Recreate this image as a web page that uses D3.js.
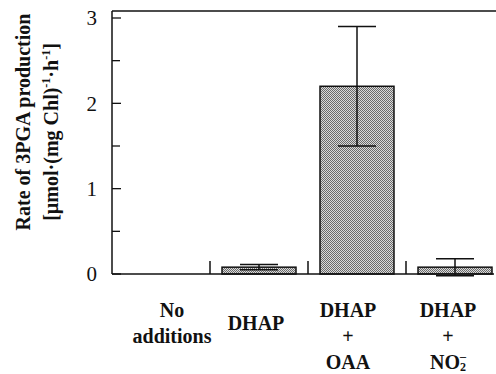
<!DOCTYPE html>
<html>
<head>
<meta charset="utf-8">
<script src="https://cdn.jsdelivr.net/npm/d3@7"></script>
<style>
  body { margin: 0; background: #fff; }
  text { font-family: "Liberation Serif", "Times New Roman", serif; }
</style>
</head>
<body>
<div id="chart"></div>
<script>
const categories = ["none", "dhap", "oaa", "no2"];
const values = [0, 0.08, 2.2, 0.08];
const errors = [0, 0.03, 0.7, 0.1];
const yTicks = [0, 1, 2, 3];
const yMinorTicks = [0.5, 1.5, 2.5];
// label lines for each category (null = empty line)
const labelLines = [
  ["No", "additions"],
  [null, "DHAP"],
  ["DHAP", "+", "OAA"],
  ["DHAP", "+", "NO2-"]
];

const width = 496, height = 374;
const svg = d3.select("#chart").append("svg")
  .attr("width", width).attr("height", height);

const defs = svg.append("defs");
const pat = defs.append("pattern")
  .attr("id", "stipple").attr("patternUnits", "userSpaceOnUse")
  .attr("width", 2).attr("height", 2);
pat.append("rect").attr("width", 2).attr("height", 2).attr("fill", "#dadada");
pat.append("rect").attr("width", 1).attr("height", 1).attr("fill", "#6a6a6a");
pat.append("rect").attr("x", 1).attr("y", 1).attr("width", 1).attr("height", 1).attr("fill", "#6a6a6a");

const x = d3.scaleBand().domain(categories).range([112, 504]).paddingInner(0.245).paddingOuter(0.1225);
const y = d3.scaleLinear().domain([0, 3]).range([274, 18]);

const plotLeft = 112, plotRight = 496, plotTop = 11;

// frame lines
svg.append("line").attr("x1", plotLeft).attr("x2", plotLeft).attr("y1", plotTop).attr("y2", y(0))
  .attr("stroke", "#111").attr("stroke-width", 1.5);
svg.append("line").attr("x1", plotLeft).attr("x2", plotRight).attr("y1", plotTop).attr("y2", plotTop)
  .attr("stroke", "#111").attr("stroke-width", 1.5);

// y axis ticks (inward)
svg.append("g").selectAll("line").data(yTicks).join("line")
  .attr("x1", plotLeft).attr("x2", plotLeft + 9)
  .attr("y1", d => y(d)).attr("y2", d => y(d))
  .attr("stroke", "#111").attr("stroke-width", 1.3);
svg.append("g").selectAll("line").data(yMinorTicks).join("line")
  .attr("x1", plotLeft).attr("x2", plotLeft + 8)
  .attr("y1", d => y(d)).attr("y2", d => y(d))
  .attr("stroke", "#111").attr("stroke-width", 1.3);
svg.append("g").selectAll("text").data(yTicks).join("text")
  .attr("x", plotLeft - 15).attr("y", d => y(d))
  .attr("dy", "0.35em").attr("text-anchor", "end")
  .attr("font-size", 21).attr("fill", "#111")
  .text(d => d);

// bars
svg.append("g").selectAll("rect").data(categories.filter((c, i) => values[i] > 0)).join("rect")
  .attr("x", d => x(d)).attr("width", x.bandwidth())
  .attr("y", d => y(values[categories.indexOf(d)]))
  .attr("height", d => y(0) - y(values[categories.indexOf(d)]))
  .attr("fill", "url(#stipple)").attr("stroke", "#111").attr("stroke-width", 1.5);

// baseline
svg.append("line").attr("x1", plotLeft).attr("x2", 494).attr("y1", y(0)).attr("y2", y(0))
  .attr("stroke", "#111").attr("stroke-width", 1.5);

// category separators
svg.append("g").selectAll("line").data(categories.slice(1)).join("line")
  .attr("x1", d => x(d) - x.step() * x.paddingInner() / 2)
  .attr("x2", d => x(d) - x.step() * x.paddingInner() / 2)
  .attr("y1", y(0)).attr("y2", y(0) - 13)
  .attr("stroke", "#111").attr("stroke-width", 1.5);

// error bars
const cap = 19;
const eb = svg.append("g").attr("stroke", "#111").attr("stroke-width", 1.5);
categories.forEach((c, i) => {
  if (errors[i] <= 0) return;
  const cx = x(c) + x.bandwidth() / 2;
  const hi = y(values[i] + errors[i]), lo = y(values[i] - errors[i]);
  eb.append("line").attr("x1", cx).attr("x2", cx).attr("y1", hi).attr("y2", lo);
  eb.append("line").attr("x1", cx - cap).attr("x2", cx + cap).attr("y1", hi).attr("y2", hi);
  eb.append("line").attr("x1", cx - cap).attr("x2", cx + cap).attr("y1", lo).attr("y2", lo);
});

// category labels
const labelBase = [317, 343, 369];
const labelOffsetX = [11, -3, -9, -7];
categories.forEach((c, i) => {
  const cx = x(c) + x.bandwidth() / 2 + labelOffsetX[i];
  const lines = labelLines[i];
  lines.forEach((ln, j) => {
    if (!ln) return;
    let by = labelBase[j];
    if (i === 1) by = 330;
    const t = svg.append("text").attr("x", cx).attr("y", by)
      .attr("text-anchor", "middle").attr("font-size", 20)
      .attr("font-weight", "bold").attr("fill", "#111");
    if (ln === "NO2-") {
      t.append("tspan").text("NO");
      t.append("tspan").attr("font-size", 12).attr("dy", 2).text("2");
      t.append("tspan").attr("font-size", 12).attr("dy", -11).attr("dx", -6).text("\u2013");
    } else {
      t.text(ln);
    }
  });
});

// y axis title
const title = svg.append("g").attr("transform", "translate(0,122) rotate(-90)");
title.append("text").attr("x", 0).attr("y", 30).attr("text-anchor", "middle")
  .attr("font-size", 20).attr("font-weight", "bold").attr("fill", "#111")
  .text("Rate of 3PGA production");
const t2 = title.append("text").attr("x", -10).attr("y", 58).attr("text-anchor", "middle")
  .attr("font-size", 20).attr("font-weight", "bold").attr("fill", "#111");
t2.append("tspan").text("[\u00b5mol\u00b7(mg Chl)");
t2.append("tspan").attr("font-size", 12).attr("dy", -8).text("-1");
t2.append("tspan").attr("dy", 8).text("\u00b7h");
t2.append("tspan").attr("font-size", 12).attr("dy", -8).text("-1");
t2.append("tspan").attr("dy", 8).text("]");
</script>
</body>
</html>
